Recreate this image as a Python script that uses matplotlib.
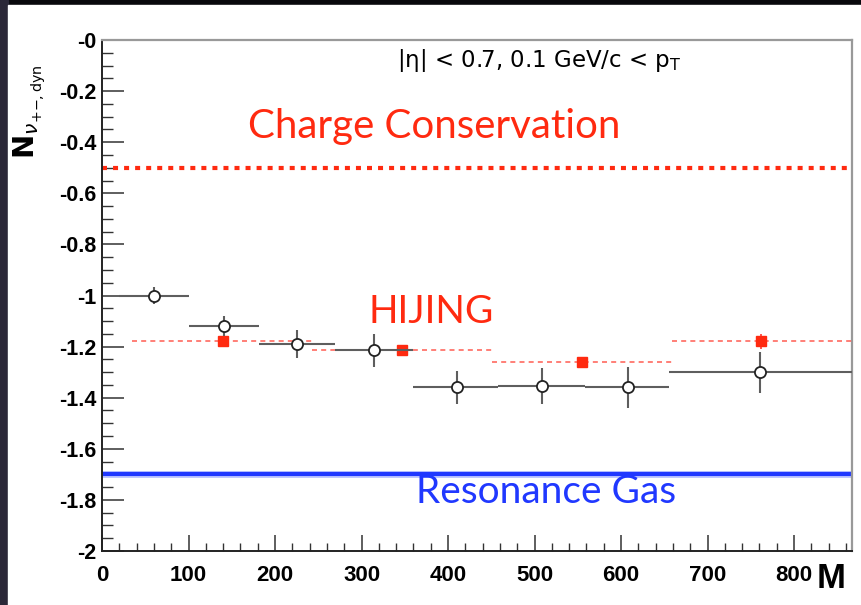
import matplotlib
matplotlib.use("Agg")
import matplotlib.pyplot as plt
from matplotlib.ticker import MultipleLocator
from matplotlib.patches import Rectangle
import numpy as np

# ---- data ----
data_x = [60, 141, 225, 314, 410, 509, 608, 761]
data_y = [-1.00, -1.12, -1.19, -1.215, -1.36, -1.355, -1.36, -1.30]
data_yerr = [0.035, 0.04, 0.055, 0.065, 0.065, 0.07, 0.08, 0.08]
data_xlo = [20, 100, 181, 269, 360, 458, 558, 656]
data_xhi = [100, 181, 269, 360, 458, 558, 656, 870]

hij_x = [140, 347, 555, 762]
hij_y = [-1.18, -1.215, -1.26, -1.18]
hij_yerr = [0.0, 0.0, 0.0, 0.03]
hij_xlo = [35, 243, 451, 659]
hij_xhi = [243, 451, 659, 870]

charge_cons = -0.5
reso_gas = -1.7
ytick_vals = [0, -0.2, -0.4, -0.6, -0.8, -1, -1.2, -1.4, -1.6, -1.8, -2]
ytick_labels = ["-0", "-0.2", "-0.4", "-0.6", "-0.8", "-1", "-1.2", "-1.4", "-1.6", "-1.8", "-2"]
xtick_vals = [0, 100, 200, 300, 400, 500, 600, 700, 800]

W, H = 861, 605
XMAX = 867
fig = plt.figure(figsize=(W / 100, H / 100), dpi=100)
fig.patch.set_facecolor("#08080c")
fig.add_artist(Rectangle((0, 0), 8 / W, 1, transform=fig.transFigure, color="#2b2838", zorder=-2))
fig.add_artist(Rectangle((8 / W, 0), 1 - 8 / W, 1 - 5 / H, transform=fig.transFigure, color="white", zorder=-1))

ax = fig.add_axes([102 / W, 1 - 551 / H, (852 - 102) / W, (551 - 40) / H])
ax.set_xlim(0, XMAX)
ax.set_ylim(-2, 0)

# reference lines
ax.axhline(charge_cons, color="#ff2a10", lw=3.0, ls=(0, (1.2, 1.45)), zorder=2)
ax.axhline(reso_gas, color="#8090ff", lw=5.0, alpha=0.5, zorder=2)
ax.axhline(reso_gas, color="#2038ff", lw=3.0, zorder=2)

# HIJING
hx = np.array(hij_x); hy = np.array(hij_y)
ax.hlines(hy, hij_xlo, [min(v, XMAX) for v in hij_xhi], colors="#ff6a60", lw=1.2,
          linestyles=(0, (3, 2.5)), zorder=3)
ax.vlines(hx, hy - np.array(hij_yerr), hy + np.array(hij_yerr), colors="#ff4a40", lw=1.3, zorder=3)
ax.plot(hx, hy, "s", color="#ff2a10", ms=7.5, zorder=4)

# data
dx = np.array(data_x); dy = np.array(data_y); de = np.array(data_yerr)
ax.hlines(dy, data_xlo, [min(v, XMAX) for v in data_xhi], colors="#5e5e5e", lw=1.5, zorder=5)
ax.vlines(dx, dy - de, dy + de, colors="#5e5e5e", lw=1.5, zorder=5)
ax.plot(dx, dy, "o", mfc="white", mec="#222222", mew=1.3, ms=8, zorder=6)

# ticks
ax.set_yticks(ytick_vals)
ax.set_yticklabels(ytick_labels)
ax.set_xticks(xtick_vals)
ax.yaxis.set_minor_locator(MultipleLocator(0.05))
ax.xaxis.set_minor_locator(MultipleLocator(20))
ax.tick_params(which="both", direction="in", colors="#333333", labelcolor="black")
ax.tick_params(axis="y", which="major", length=16, width=1.1, pad=4)
ax.tick_params(axis="y", which="minor", length=8, width=1.0)
ax.tick_params(axis="x", which="major", length=11.5, width=1.1, pad=10)
ax.tick_params(axis="x", which="minor", length=5.8, width=1.0)
for lab in ax.get_yticklabels():
    lab.set_fontfamily("Liberation Sans")
    lab.set_fontweight("bold")
    lab.set_fontsize(15.5)
for lab in ax.get_xticklabels():
    lab.set_fontfamily("Liberation Sans")
    lab.set_fontweight("bold")
    lab.set_fontsize(16)

for s in ["left", "bottom"]:
    ax.spines[s].set_color("#222222")
    ax.spines[s].set_linewidth(1.4)
for s in ["top", "right"]:
    ax.spines[s].set_color("#999999")
    ax.spines[s].set_linewidth(1.6)

# axis titles
fig.text(30 / W, 1 - 64 / H, r"$\mathbf{N}_{\nu_{{+}{-},\mathrm{dyn}}}$", rotation=90, ha="center", va="top",
         fontsize=21, color="black")
fig.text(831 / W, 1 - 578 / H, "M", ha="center", va="center", fontsize=25, fontweight="bold",
         fontfamily="Liberation Sans", color="black")

# annotations
ax.text(506, -0.106, r"|η| < 0.7, 0.1 GeV/c < p$_\mathregular{T}$", ha="center", va="baseline",
        fontsize=16.5, fontfamily="DejaVu Sans", color="black")
ax.text(384, -0.384, "Charge Conservation", ha="center", va="baseline", fontsize=29,
        fontfamily="Lato", color="#ff2a10")
ax.text(381, -1.106, "HIJING", ha="center", va="baseline", fontsize=28,
        fontfamily="Lato", color="#ff2a10")
ax.text(513, -1.812, "Resonance Gas", ha="center", va="baseline", fontsize=28,
        fontfamily="Lato", color="#2038ff")

fig.savefig("out.png", dpi=100, facecolor=fig.get_facecolor())
